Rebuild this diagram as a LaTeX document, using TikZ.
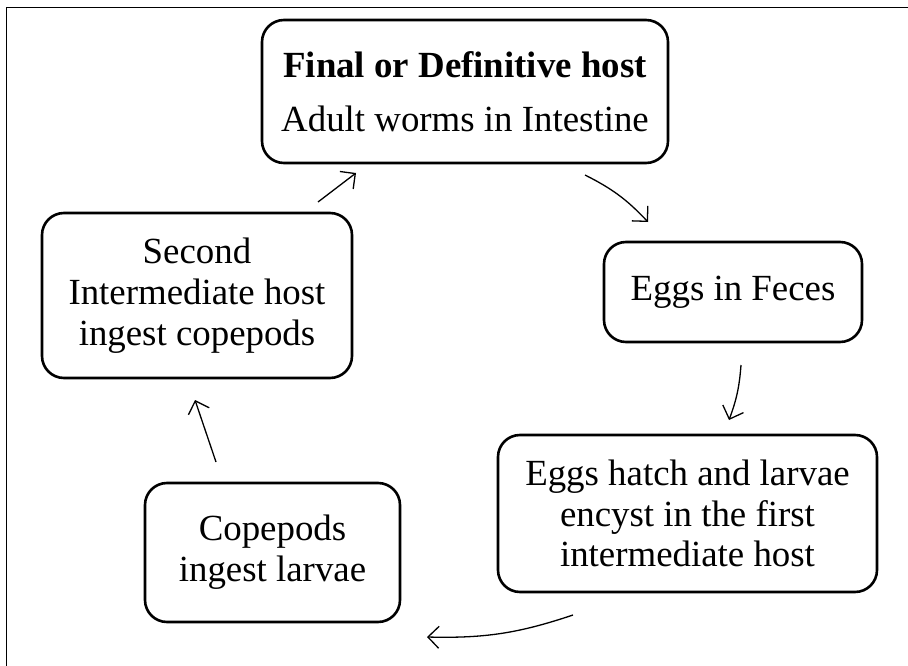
\documentclass[tikz,border=0pt]{standalone}
\usepackage{fontspec}
\setmainfont{Liberation Serif}
\usetikzlibrary{arrows.meta}
\begin{document}
\begin{tikzpicture}[x=1bp,y=-1bp,
 box/.style={draw, line width=2.6bp, rounded corners=22bp, align=center,
   font=\fontsize{37}{41}\selectfont, inner sep=0pt},
 arr/.style={line width=1.3bp, -{Straight Barb[length=11bp,width=22bp]}}]
\useasboundingbox (0,0) rectangle (908,666);
\draw[line width=1bp] (6,666) -- (6,8) -- (908,8);
\node[box, minimum width=406bp, minimum height=143bp] (final) at (465,91.5)
  {{\bfseries Final or Definitive host}\\[13bp]Adult worms in Intestine};
\node[box, minimum width=258bp, minimum height=100bp] (eggs) at (733,292) {Eggs in Feces};
\node[box, minimum width=379bp, minimum height=157bp] (hatch) at (687.5,513.5)
  {Eggs hatch and larvae\\encyst in the first\\intermediate host};
\node[box, minimum width=255bp, minimum height=139bp] (cope) at (272.5,552.5)
  {Copepods\\ingest larvae};
\node[box, minimum width=310bp, minimum height=165bp] (second) at (197,295.5)
  {Second\\Intermediate host\\ingest copepods};
\coordinate (a1s) at (585,175); \coordinate (a1e) at (648,222);
\coordinate (a2s) at (741,365); \coordinate (a2e) at (729,420);
\coordinate (a3s) at (573,615); \coordinate (a3e) at (427,637);
\coordinate (a4s) at (216,462); \coordinate (a4e) at (195,400);
\coordinate (a5s) at (318,202); \coordinate (a5e) at (356,173);
\draw[arr] (a1s) to[bend left=10] (a1e);
\draw[arr] (a2s) to[bend left=8] (a2e);
\draw[arr] (a3s) to[bend left=10] (a3e);
\draw[arr] (a4s) -- (a4e);
\draw[arr] (a5s) -- (a5e);
\end{tikzpicture}
\end{document}
